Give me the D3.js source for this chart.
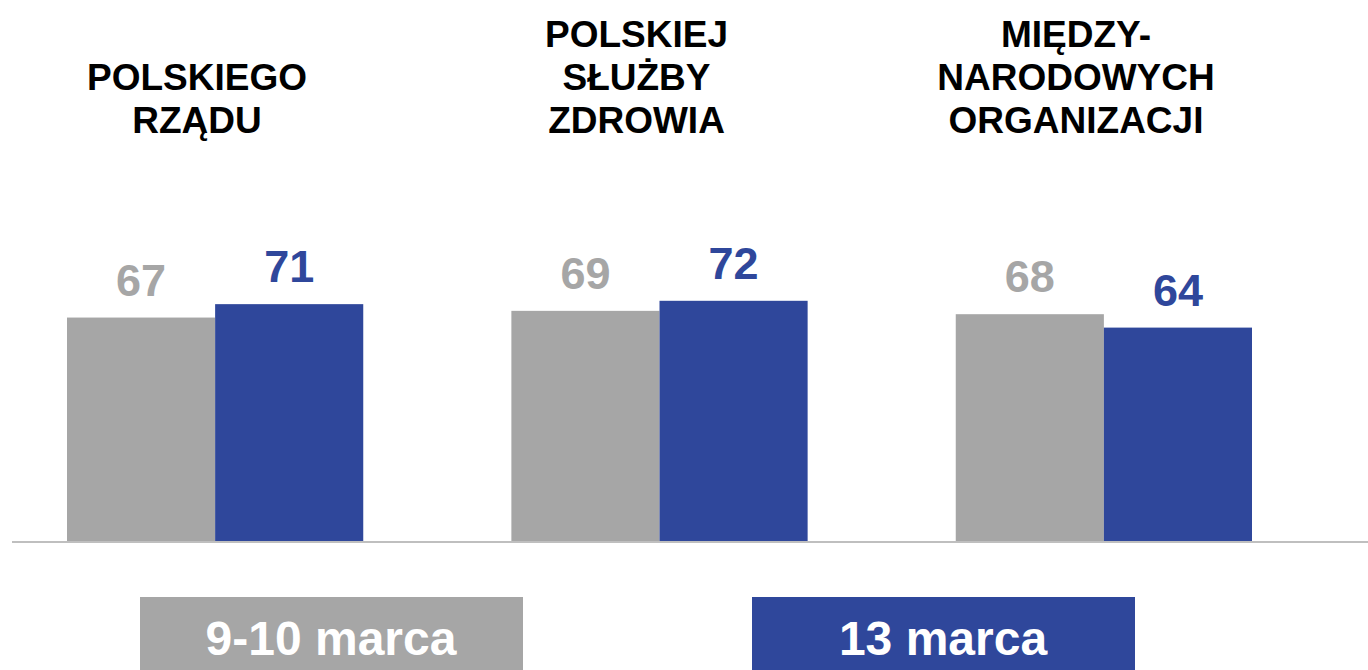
<!doctype html>
<html>
<head>
<meta charset="utf-8">
<script src="https://d3js.org/d3.v7.min.js"></script>
<style>
body { margin: 0; background: #fff; }
text { font-family: "Liberation Sans", Arial, sans-serif; font-weight: bold; }
</style>
</head>
<body>
<script type="text/javascript">
var width = 1368;
var height = 670;

// data
var categories = ["POLSKIEGO RZĄDU", "POLSKIEJ SŁUŻBY ZDROWIA", "MIĘDZYNARODOWYCH ORGANIZACJI"];
var categoryLines = [
  ["POLSKIEGO", "RZĄDU"],
  ["POLSKIEJ", "SŁUŻBY", "ZDROWIA"],
  ["MIĘDZY-", "NARODOWYCH", "ORGANIZACJI"]
];
var seriesNames = ["9-10 marca", "13 marca"];
var march9_10 = [67, 69, 68];
var march13 = [71, 72, 64];
var colors = ["#a6a6a6", "#2f479b"];

var series = [march9_10, march13];

var svg = d3.select("body").append("svg")
  .attr("width", width)
  .attr("height", height);

// scales
var x = d3.scaleBand()
  .domain(categories)
  .range([67, 1252])
  .paddingInner(1 / 3)
  .paddingOuter(0);

var xSub = d3.scaleBand()
  .domain(d3.range(series.length))
  .range([0, x.bandwidth()]);

var y = d3.scaleLinear()
  .domain([0, 100])
  .range([542, 207]);

// bars
var groups = svg.selectAll("g.group")
  .data(categories)
  .enter()
  .append("g")
  .attr("class", "group")
  .attr("transform", function (d) { return "translate(" + x(d) + ",0)"; });

groups.selectAll("rect")
  .data(function (d, i) { return series.map(function (s, j) { return { s: j, v: s[i] }; }); })
  .enter()
  .append("rect")
  .attr("x", function (d) { return xSub(d.s); })
  .attr("width", xSub.bandwidth())
  .attr("y", function (d) { return y(d.v); })
  .attr("height", function (d) { return y(0) - y(d.v); })
  .attr("fill", function (d) { return colors[d.s]; });

// value labels
groups.selectAll("text.val")
  .data(function (d, i) { return series.map(function (s, j) { return { s: j, v: s[i] }; }); })
  .enter()
  .append("text")
  .attr("class", "val")
  .attr("x", function (d) { return xSub(d.s) + xSub.bandwidth() / 2; })
  .attr("y", function (d) { return y(d.v) - 22; })
  .attr("text-anchor", "middle")
  .attr("font-size", 45)
  .attr("fill", function (d) { return colors[d.s]; })
  .text(function (d) { return d.v; });

// baseline
svg.append("line")
  .attr("x1", 12)
  .attr("x2", width)
  .attr("y1", y(0))
  .attr("y2", y(0))
  .attr("stroke", "#bfbfbf")
  .attr("stroke-width", 2);

// category labels (bottom aligned)
var labelX = d3.scaleLinear().domain([0, 2]).range([197, 1076]);
var lineH = 43;
var lastBaseline = 133;

categoryLines.forEach(function (lines, i) {
  var t = svg.append("text")
    .attr("text-anchor", "middle")
    .attr("font-size", 37)
    .attr("fill", "#000");
  lines.forEach(function (l, k) {
    t.append("tspan")
      .attr("x", labelX(i))
      .attr("y", lastBaseline - (lines.length - 1 - k) * lineH)
      .text(l);
  });
});

// legend
var legendX = [140, 752];
var legend = svg.selectAll("g.legend")
  .data(seriesNames)
  .enter()
  .append("g")
  .attr("class", "legend")
  .attr("transform", function (d, i) { return "translate(" + legendX[i] + ",597)"; });

legend.append("rect")
  .attr("width", 383)
  .attr("height", 90)
  .attr("fill", function (d, i) { return colors[i]; });

legend.append("text")
  .attr("x", 191)
  .attr("y", 58)
  .attr("text-anchor", "middle")
  .attr("font-size", 48)
  .attr("fill", "#fff")
  .text(function (d) { return d; });
</script>
</body>
</html>
